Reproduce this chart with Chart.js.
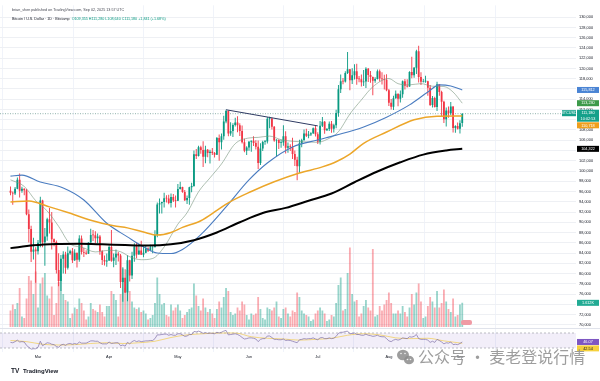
<!DOCTYPE html>
<html><head><meta charset="utf-8">
<script src="https://cdn.jsdelivr.net/npm/chart.js@4.4.1/dist/chart.umd.min.js"></script>
<style>html,body{margin:0;padding:0;background:#fff;}canvas{display:block;}</style>
</head><body>
<canvas id="c" width="600" height="381" style="width:600px;height:381px"></canvas>
<script>
// ---------- DATA (BTC/USD daily, Bitstamp, 2025-02-17 .. 2025-09-02; index 0 = Feb 17) ----------
const startDate = '2025-02-17';
const monthLabels = ['Mar','Apr','May','Jun','Jul','Aug','Sep'];
const monthIdx = [12, 43, 73, 104, 134, 165, 196];

const open = [
 96150,95750,95600,96550,98300,96150,96550,96250,91550,88700,84250,84700,
 84350,86000,94250,86100,87200,90600,89950,86700,86150,80700,78550,82900,83700,81100,83950,84350,82600,84050,82700,86850,84200,84050,83850,86050,87500,87450,86900,87200,84350,82650,82350,
 82550,85150,82500,83100,83850,83500,78350,79150,76300,82600,79600,83450,85250,83700,84500,83650,84050,84900,84450,85100,85100,87500,93450,93700,93950,94700,94650,93750,94950,94250,
 94200,96500,96900,95900,94300,94750,96850,97050,103250,102950,104650,104100,102800,104150,103500,103750,103500,103150,106450,105600,106800,109650,111700,107300,107800,109000,109450,108950,107800,105600,103950,
 104600,105700,105900,105450,104750,101550,104400,105650,105750,110200,110250,108650,105950,106050,105450,105550,106800,104550,104850,104650,103300,102200,100950,105400,106000,107300,106900,107100,107350,108350,
 107150,105700,108850,109600,107950,108200,109200,108250,108950,111300,115950,117500,117450,119100,119850,117700,118700,119450,117950,117900,117300,117450,119950,118750,118350,117600,117950,119450,118050,117900,117800,
 115750,113300,112550,114200,115050,114100,115000,117500,116650,116500,119300,118700,120150,123350,118350,117400,117450,117500,116250,112900,114250,112500,116950,115400,113500,110100,111800,111250,112600,108400,108800,
 108250,109355];
const high = [
 97000,96000,96900,98750,99500,96950,96650,96500,92500,89300,87000,85100,
 86550,95000,94400,88900,90900,92800,92000,86850,86450,83950,83600,84350,84250,85250,84650,85000,84750,84050,87450,87400,85000,84550,86100,88750,88500,88250,87800,87500,84550,83500,83900,
 85500,88500,83900,84700,84200,83800,81200,80850,83550,82700,84250,85900,86100,85800,86400,85450,85450,85100,85600,85300,88450,93850,94650,94000,95750,95250,95350,95600,95500,95200,
 97450,97900,96950,96300,95200,96950,97700,104000,104300,104950,104950,105800,104950,104300,104150,104500,103700,106650,107100,107300,110800,111950,111800,109500,109300,110400,110700,109300,108900,106300,104850,
 105850,105950,106800,106000,105950,105400,105900,106050,110550,110600,110400,108800,106200,106200,106100,108950,107750,105550,105200,106500,104000,102800,106100,106300,108100,108250,107800,107550,108500,108800,
 107550,109750,110550,109750,108400,109650,109750,109200,111950,116800,118850,118150,119450,123200,119900,120050,120850,120950,118550,118850,119700,120250,120100,119500,118450,118300,119800,119800,119250,118800,118900,
 116000,114050,114700,115700,115100,115700,117650,117950,117900,119450,122300,120300,123650,124450,119250,117950,118600,117600,116800,114650,114500,117400,117000,115650,113700,112400,112600,113450,112650,108950,109450,
 109900,111280];
const low = [
 95250,93400,95300,96450,94850,95750,95250,91350,86050,82250,82750,78200,
 83700,85100,85100,81500,86400,87800,84700,85300,80000,77500,76600,80000,79950,80800,83650,82050,82450,81150,82300,83700,83200,83650,83800,85550,86350,85900,85850,83650,81650,81550,81300,
 82450,82300,81200,81650,82350,77150,74500,76200,74600,78450,78950,82300,83000,83650,83650,83150,83950,84200,84350,83950,85100,87050,91700,91700,92900,93850,93500,92900,93950,92900,
 94150,96400,95750,94150,93550,93400,95850,96950,102350,102850,103350,100800,101500,102700,101450,103100,102650,103100,102000,104200,106100,109300,106800,106900,106650,108700,107550,106850,105350,103650,103100,
 103950,103750,104900,104200,100400,101150,103900,105100,105350,108350,108100,105700,102800,104300,104550,104950,103400,103550,103900,102350,101000,98200,99600,104650,105950,106650,106400,106850,107200,106750,
 105250,105150,108600,107250,107800,107800,107450,107500,108350,110600,115200,116950,117250,118950,115750,117000,117850,116850,117300,116500,116600,116200,117350,117200,114800,117200,117850,117450,116900,115900,115550,
 112700,112000,111900,114100,112650,113350,114300,115900,116300,116450,118100,118200,118950,117250,116800,117250,117200,114700,112700,112400,112400,111700,114700,110700,109350,108700,110400,110900,107500,107450,108100,
 107300,108640];
const close = [
 95750,95600,96550,98300,96150,96550,96250,91550,88700,84250,84700,84350,
 86000,94250,86100,87200,90600,89950,86700,86150,80700,78550,82900,83700,81100,83950,84350,82600,84050,82700,86850,84200,84050,83850,86050,87500,87450,86900,87200,84350,82650,82350,82550,
 85150,82500,83100,83850,83500,78350,79150,76300,82600,79600,83450,85250,83700,84500,83650,84050,84900,84450,85100,85100,87500,93450,93700,93950,94700,94650,93750,94950,94250,94200,
 96500,96900,95900,94300,94750,96850,97050,103250,102950,104650,104100,102800,104150,103500,103750,103500,103150,106450,105600,106800,109650,111700,107300,107800,109000,109450,108950,107800,105600,103950,104600,
 105700,105900,105450,104750,101550,104400,105650,105750,110200,110250,108650,105950,106050,105450,105550,106800,104550,104850,104650,103300,102200,100950,105400,106000,107300,106900,107100,107350,108350,107150,
 105700,108850,109600,107950,108200,109200,108250,108950,111300,115950,117500,117450,119100,119850,117700,118700,119450,117950,117900,117300,117450,119950,118750,118350,117600,117950,119450,118050,117900,117800,115750,
 113300,112550,114200,115050,114100,115000,117500,116650,116500,119300,118700,120150,123350,118350,117400,117450,117500,116250,112900,114250,112500,116950,115400,113500,110100,111800,111250,112600,108400,108800,108250,
 109339,111180];
const volume = [
 1100,1500,1200,1600,2600,700,600,1900,3400,3100,2200,3700,
 1300,2900,3300,3600,2100,1900,2700,800,1600,3000,3400,2200,1800,1700,600,900,1300,1200,1900,1600,1100,500,700,1600,1200,1100,1000,1500,1000,700,1400,
 1400,2400,2200,1800,700,2200,3900,2600,3800,2400,1700,1300,1200,1300,1000,1100,900,500,600,800,1600,3300,2200,1500,1600,800,700,1500,1100,1300,
 1500,1100,600,800,1000,1200,1300,2900,2100,1400,1100,1900,1300,1000,1200,900,600,1200,1700,1300,2000,2600,2400,1000,800,900,1300,1100,1700,1500,800,
 500,900,800,900,2000,1200,600,500,1300,1200,1100,1300,1700,700,600,1200,1300,900,700,1100,1000,2300,2000,1100,900,800,700,400,500,900,
 1100,1300,1100,900,400,500,800,700,1600,2800,3300,1100,1200,3600,5300,2200,1700,1800,700,900,1400,1800,1300,1100,5200,700,800,1400,1100,1500,1800,
 2300,1600,900,900,1100,900,1400,1000,700,1300,2200,1500,2300,2900,1700,600,700,1400,2000,1700,1300,2400,1300,1600,2500,1700,1200,1000,1900,700,800,
 1500,1612];
const rsi = [
 45,44,47,51,46,47,46,37,32,27,28,28,
 32,48,36,40,44,43,40,39,34,32,38,40,37,41,42,40,42,40,46,43,43,43,46,49,49,48,48,44,41,41,41,
 46,42,43,44,44,36,38,35,45,41,47,50,47,49,47,48,49,49,50,50,55,65,65,66,67,67,64,66,64,64,
 68,68,65,61,62,66,66,74,73,75,73,69,71,69,70,69,68,72,70,72,75,77,65,66,67,68,66,63,58,54,55,
 57,57,56,54,47,53,55,55,62,62,58,53,53,52,52,54,50,51,50,48,46,44,52,53,55,54,55,55,57,54,
 52,57,58,55,55,57,55,56,61,69,72,72,74,75,68,69,70,66,66,64,64,67,64,63,61,62,64,61,60,60,55,
 49,47,51,53,51,53,57,56,55,60,59,61,66,55,53,53,53,51,45,48,45,53,50,46,41,44,43,46,39,40,39,
 42,46.07];
// moving averages: [dayIndex, value]
const ma20Pts = [[0,98280],[6,97000],[11,94200],[16,92200],[21,89190],[26,85790],[31,85150],[37,84215],[43,84525],[48,84255],[52,83275],[57,82690],[62,82930],[67,85170],[73,89635],[77,91850],[82,95940],[87,98660],[92,101370],[98,105330],[104,106440],[108,106560],[113,106810],[118,106110],[123,105800],[128,105700],[134,105600],[138,106160],[143,107655],[148,111120],[153,113865],[158,116430],[165,118040],[169,117040],[174,116810],[179,117050],[184,116545],[189,116485],[193,115405],[197,113230]];
const ma50Pts = [[0,99000],[5,99200],[13,97850],[23,96700],[32,94350],[42,89800],[51,87150],[58,85200],[64,84000],[70,83900],[75,84700],[83,87600],[94,93000],[104,98250],[112,101560],[123,104700],[134,106050],[142,107000],[154,108600],[164,110500],[174,112900],[182,115400],[187,116800],[192,116600],[197,115812]];
const ma100Pts = [[0,93950],[8,94150],[17,93000],[25,91900],[35,90400],[45,89300],[51,88900],[58,88100],[64,87500],[70,88000],[75,89000],[83,90300],[90,92300],[95,93800],[105,96000],[115,97900],[126,99600],[136,100800],[142,101800],[148,103300],[154,105400],[164,107600],[176,110000],[186,110700],[197,110718]];
const ma200Pts = [[0,84950],[10,85500],[20,85750],[30,85800],[40,85700],[50,85550],[60,85450],[70,85700],[80,86500],[90,88000],[100,90000],[110,91800],[120,92800],[130,94200],[140,95600],[150,97800],[160,99900],[170,101700],[180,103200],[190,104000],[197,104322]];
const rsiMaPts = [[0,50],[7,47],[14,40],[21,38],[28,39],[35,42],[42,44],[49,42],[56,44],[63,48],[70,58],[77,65],[84,68],[91,70],[98,70],[105,60],[112,56],[119,54],[126,51],[133,53],[140,56],[147,64],[154,68],[161,65],[168,57],[175,55],[182,56],[189,49],[197,42.54]];
const trendPts = [[94,111950],[134,108800]];
const rsiLevels = [70, 30];
const priceTicks = [130000,128000,126000,124000,122000,120000,118000,116000,114000,112000,110000,108000,106000,104000,102000,100000,98000,96000,94000,92000,90000,88000,86000,84000,82000,80000,78000,76000,74000,72000,70000];
const hiddenTicks = [116000,110000,104000,74000];
const headerLine1 = 'brian_shen published on TradingView.com, Sep 02, 2025 13:57 UTC';
const headerSymbol = 'Bitcoin / U.S. Dollar · 1D · Bitstamp';
const countdown = '10:02:53';
const watermark = '公众号 · 麦老登说行情';

// ---------- LAYOUT CONSTANTS (pixel anchors of each pane) ----------
const X_MIN = -4.57, X_MAX = 246.6;
const PRICE_ANCHOR = {value: 124000, y: 48, pxPerUnit: 0.005125};
const VOL_ANCHOR = {value: 0, y: 327, pxPerUnit: 1 / 66.7};
const RSI_ANCHOR = {value: 30, y: 348, pxPerUnit: 0.375};
const UP = '#089981', DOWN = '#f23645';
const FONT = '"Liberation Sans", Arial, sans-serif';

const n = close.length;
const idx = close.map((_, i) => i);
const isUp = idx.map(i => close[i] >= open[i]);
const fmt = v => Math.round(v).toLocaleString('en-US');
const pts = a => a.map(p => ({x: p[0], y: p[1]}));

const overlay = {
  id: 'overlay',
  beforeDatasetsDraw(chart) {
    const {ctx, chartArea: ca, scales} = chart;
    const yR = scales.yRsi, yP = scales.y, yV = scales.yVol;
    ctx.save();
    const y70 = yR.getPixelForValue(rsiLevels[0]), y30 = yR.getPixelForValue(rsiLevels[1]);
    ctx.fillStyle = 'rgba(126,87,194,0.10)';
    ctx.fillRect(ca.left, y70, ca.right - ca.left, y30 - y70);
    ctx.strokeStyle = '#a0a3ab'; ctx.lineWidth = 0.7; ctx.setLineDash([2, 2]);
    [y70, y30].forEach(y => { ctx.beginPath(); ctx.moveTo(ca.left, y); ctx.lineTo(ca.right, y); ctx.stroke(); });
    ctx.setLineDash([]);
    ctx.strokeStyle = '#e0e3eb'; ctx.lineWidth = 1;
    const ySep = Math.round(yV.getPixelForValue(0)) + 1.5;
    ctx.beginPath(); ctx.moveTo(ca.left, ySep); ctx.lineTo(600, ySep); ctx.stroke();
    const yc = yP.getPixelForValue(close[n - 1]);
    ctx.strokeStyle = 'rgba(60,120,110,0.8)'; ctx.lineWidth = 0.7; ctx.setLineDash([1, 1.5]);
    ctx.beginPath(); ctx.moveTo(ca.left, yc); ctx.lineTo(ca.right, yc); ctx.stroke();
    ctx.restore();
  },
  afterDraw(chart) {
    const {ctx, chartArea: ca, scales} = chart;
    const yP = scales.y, yR = scales.yRsi, yV = scales.yVol;
    ctx.save();
    ctx.textBaseline = 'middle';
    // header
    ctx.font = `3.7px ${FONT}`; ctx.fillStyle = '#434651'; ctx.textAlign = 'left';
    ctx.fillText(headerLine1, 12, 10);
    ctx.fillStyle = '#131722';
    ctx.fillText(headerSymbol, 12, 18.5);
    let hx = 12 + ctx.measureText(headerSymbol + '  ').width;
    const chg = close[n - 1] - close[n - 2];
    const ohlc = `O${fmt(open[n-1])} H${fmt(high[n-1])} L${fmt(low[n-1])} C${fmt(close[n-1])} +${fmt(chg)} (+${(chg / close[n-2] * 100).toFixed(2)}%)`;
    ctx.fillStyle = UP; ctx.fillText(ohlc, hx, 18.5);

    // right-side tags
    const tags = [
      {v: ma50Pts[ma50Pts.length-1][1], bg: '#4a84d4', fg: '#fff', h: 6},
      {v: ma20Pts[ma20Pts.length-1][1], bg: '#3d9a4a', fg: '#fff', h: 6},
      {v: close[n-1], bg: '#15a08a', fg: '#fff', h: 12, two: true},
      {v: ma100Pts[ma100Pts.length-1][1], bg: '#ef9f1d', fg: '#fff', h: 6},
      {v: ma200Pts[ma200Pts.length-1][1], bg: '#000', fg: '#fff', h: 6}
    ].map(t => Object.assign(t, {y: yP.getPixelForValue(t.v)}));
    tags.sort((a, b) => a.y - b.y);
    let prevBottom = -1e9;
    const tx = ca.right + 1, tw = 600 - tx - 1;
    ctx.font = `3.8px ${FONT}`; ctx.textAlign = 'center';
    tags.forEach(t => {
      let top = Math.max(t.y - (t.two ? 4 : t.h / 2), prevBottom + 0.6);
      prevBottom = top + t.h;
      ctx.fillStyle = t.bg; ctx.fillRect(tx, top, tw, t.h);
      ctx.fillStyle = t.fg;
      if (t.two) {
        ctx.fillText(fmt(t.v), tx + tw / 2, top + 3.2);
        ctx.fillText(countdown, tx + tw / 2, top + 8.8);
        ctx.fillStyle = t.bg; ctx.fillRect(ca.right - 14, top + 0.5, 14, 6);
        ctx.fillStyle = '#fff'; ctx.fillText('BTCUSD', ca.right - 7, top + 3.5);
      } else {
        ctx.fillText(fmt(t.v), tx + tw / 2, top + t.h / 2 + 0.2);
      }
    });
    // volume tag
    const vLast = volume[n-1];
    const vy = yV.getPixelForValue(vLast);
    ctx.fillStyle = '#22ab94'; ctx.fillRect(tx, vy - 3, tw, 6);
    ctx.fillStyle = '#fff'; ctx.fillText((vLast / 1000).toFixed(3) + 'K', tx + tw / 2, vy + 0.2);
    // small pill at the end of volume bars
    ctx.fillStyle = '#f09aa4';
    ctx.beginPath(); ctx.roundRect(ca.left + 461, yV.getPixelForValue(0) - 7, 11, 5, 2); ctx.fill();
    // RSI tags
    const rLast = rsi[n-1], rmLast = rsiMaPts[rsiMaPts.length-1][1];
    let ry = yR.getPixelForValue(rLast);
    ctx.fillStyle = '#7e57c2'; ctx.fillRect(tx, ry - 3, tw, 6);
    ctx.fillStyle = '#fff'; ctx.fillText(rLast.toFixed(2), tx + tw / 2, ry + 0.2);
    let rmy = Math.max(yR.getPixelForValue(rmLast), ry + 6.4);
    ctx.fillStyle = '#f5d13d'; ctx.fillRect(tx, rmy - 3, tw, 6);
    ctx.fillStyle = '#131722'; ctx.fillText(rmLast.toFixed(2), tx + tw / 2, rmy + 0.2);

    // TradingView logo
    ctx.textAlign = 'left';
    ctx.fillStyle = '#131722';
    ctx.font = `bold 6.5px ${FONT}`;
    ctx.fillText('TV', 11, 371);
    ctx.font = `bold 6px ${FONT}`;
    ctx.fillText('TradingView', 23, 371);

    // watermark
    ctx.globalAlpha = 0.85;
    ctx.fillStyle = '#8c8c8c';
    ctx.beginPath(); ctx.ellipse(403, 355, 6, 5.2, 0, 0, Math.PI * 2); ctx.fill();
    ctx.beginPath(); ctx.ellipse(409, 360, 5, 4.3, 0, 0, Math.PI * 2); ctx.fill();
    ctx.fillStyle = '#fff';
    [[401, 353.5], [405, 353.5], [407.5, 359.5], [410.5, 359.5]].forEach(p => { ctx.beginPath(); ctx.arc(p[0], p[1], 0.8, 0, Math.PI * 2); ctx.fill(); });
    ctx.fillStyle = '#8c8c8c';
    ctx.font = `16px "Noto Sans CJK SC", sans-serif`;
    ctx.fillText(watermark, 418, 357);
    ctx.restore();
  }
};

const chart = new Chart(document.getElementById('c'), {
  type: 'bar',
  data: {
    datasets: [
      {type: 'line', data: pts(ma200Pts), borderColor: '#000', borderWidth: 2, pointRadius: 0, cubicInterpolationMode: 'monotone', yAxisID: 'y', order: 1},
      {type: 'line', data: pts(ma100Pts), borderColor: '#eca629', borderWidth: 1.5, pointRadius: 0, cubicInterpolationMode: 'monotone', yAxisID: 'y', order: 1},
      {type: 'line', data: pts(ma50Pts), borderColor: '#4a7cc0', borderWidth: 1.1, pointRadius: 0, cubicInterpolationMode: 'monotone', yAxisID: 'y', order: 1},
      {type: 'line', data: pts(ma20Pts), borderColor: 'rgba(120,150,125,0.75)', borderWidth: 0.8, pointRadius: 0, cubicInterpolationMode: 'monotone', yAxisID: 'y', order: 1},
      {type: 'line', data: pts(trendPts), borderColor: '#2f3b63', borderWidth: 1, pointRadius: 0, yAxisID: 'y', order: 0},
      {type: 'bar', data: idx.map(i => ({x: i, y: [low[i], high[i]]})), backgroundColor: idx.map(i => isUp[i] ? UP : DOWN),
        barThickness: 0.9, grouped: false, borderWidth: 0, inflateAmount: 0, yAxisID: 'y', order: 5},
      {type: 'bar', data: idx.map(i => ({x: i, y: [open[i], close[i]]})), backgroundColor: idx.map(i => isUp[i] ? UP : DOWN),
        barThickness: 1.8, grouped: false, borderWidth: 0, inflateAmount: 0, minBarLength: 0.7, yAxisID: 'y', order: 4},
      {type: 'bar', data: idx.map(i => ({x: i, y: volume[i]})), backgroundColor: idx.map(i => isUp[i] ? 'rgba(8,153,129,0.42)' : 'rgba(242,54,69,0.42)'),
        barThickness: 1.8, grouped: false, borderWidth: 0, inflateAmount: 0, yAxisID: 'yVol', order: 10},
      {type: 'line', data: idx.map(i => ({x: i, y: rsi[i]})), borderColor: '#7e6fa8', borderWidth: 0.7, pointRadius: 0, yAxisID: 'yRsi', order: 2},
      {type: 'line', data: pts(rsiMaPts), borderColor: 'rgba(240,200,60,0.9)', borderWidth: 0.7, pointRadius: 0, cubicInterpolationMode: 'monotone', yAxisID: 'yRsi', order: 3}
    ]
  },
  options: {
    responsive: false, animation: false, devicePixelRatio: 1,
    layout: {padding: 0, autoPadding: false},
    plugins: {legend: {display: false}, tooltip: {enabled: false}},
    scales: {
      x: {type: 'linear', min: X_MIN, max: X_MAX, offset: false, position: 'bottom',
        afterBuildTicks: s => { s.ticks = monthIdx.map(v => ({value: v})); },
        afterFit: s => { s.height = 29; },
        ticks: {autoSkip: false, maxRotation: 0, padding: 3, font: {size: 3.9, family: FONT}, color: '#131722',
          callback: v => monthLabels[monthIdx.indexOf(v)] || ''},
        grid: {color: '#f0f3fa', drawTicks: false}, border: {display: false}},
      y: {position: 'right', min: 64683, max: 133366,
        afterBuildTicks: s => { s.ticks = priceTicks.map(v => ({value: v})); },
        afterFit: s => { s.width = 24; },
        ticks: {autoSkip: false, padding: 3, font: {size: 3.9, family: FONT}, color: '#131722',
          callback: v => hiddenTicks.includes(v) ? '' : v.toLocaleString('en-US')},
        grid: {color: '#eef0f4', drawTicks: false}, border: {display: false}},
      yVol: {display: false, min: -1667, max: 21811},
      yRsi: {display: false, min: 19.33, max: 958}
    }
  },
  plugins: [overlay]
});

// fit each pane's value range to the real chart area so the panes land where they do in the reference
function fitRange(opt, a, ca) {
  opt.min = a.value - (ca.bottom - a.y) / a.pxPerUnit;
  opt.max = a.value + (a.y - ca.top) / a.pxPerUnit;
}
const ca0 = chart.chartArea;
fitRange(chart.options.scales.y, PRICE_ANCHOR, ca0);
fitRange(chart.options.scales.yVol, VOL_ANCHOR, ca0);
fitRange(chart.options.scales.yRsi, RSI_ANCHOR, ca0);
chart.update();
</script>
</body></html>
